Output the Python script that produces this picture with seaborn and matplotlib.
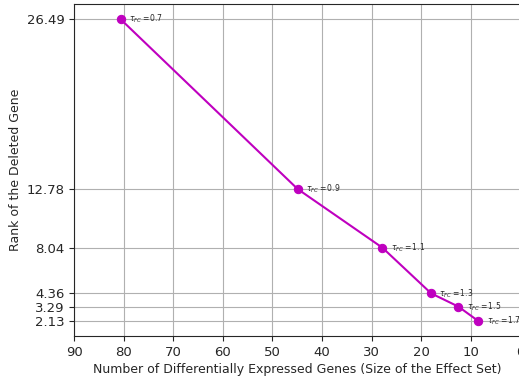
import matplotlib
matplotlib.use("Agg")
import matplotlib.pyplot as plt
import seaborn as sns
import pandas as pd

# Fold-change thresholds and the resulting effect-set sizes / ranks
tau_fc = [0.7, 0.9, 1.1, 1.3, 1.5, 1.7]
n_de_genes = [80.6, 44.9, 27.8, 18.0, 12.5, 8.5]
rank_deleted = [26.49, 12.78, 8.04, 4.36, 3.29, 2.13]
x_ticks = [90, 80, 70, 60, 50, 40, 30, 20, 10, 0]

df = pd.DataFrame({"n": n_de_genes, "rank": rank_deleted, "tau": tau_fc})

sns.set_style("ticks")
plt.rcParams["font.family"] = ["DejaVu Sans"]

fig = plt.figure(figsize=(5.19, 3.78), dpi=100)
ax = fig.add_axes([0.1426, 0.111, 0.860, 0.878])

sns.lineplot(data=df, x="n", y="rank", color="m", marker="o", markersize=6,
             markeredgecolor="m", linewidth=1.5, ax=ax, sort=False)

for n, r, t in zip(df["n"], df["rank"], df["tau"]):
    ax.annotate(r"$\tau_{FC} = $" + f"{t}", (n, r), xytext=(6, 0),
                textcoords="offset points", fontsize=5.5, va="center")

ax.set_xlim(90, 0)
ax.set_xticks(x_ticks)
ax.set_yticks(rank_deleted)
ax.set_yticklabels([f"{v:.2f}" for v in rank_deleted])
ax.tick_params(labelsize=9.5)
ax.grid(True, color="#b0b0b0", linewidth=0.8)
ax.set_xlabel("Number of Differentially Expressed Genes (Size of the Effect Set)",
              fontsize=9, labelpad=3)
ax.set_ylabel("Rank of the Deleted Gene", fontsize=9, labelpad=3)
for s in ax.spines.values():
    s.set_visible(True)
    s.set_linewidth(0.8)

fig.savefig("out.png", dpi=100)
